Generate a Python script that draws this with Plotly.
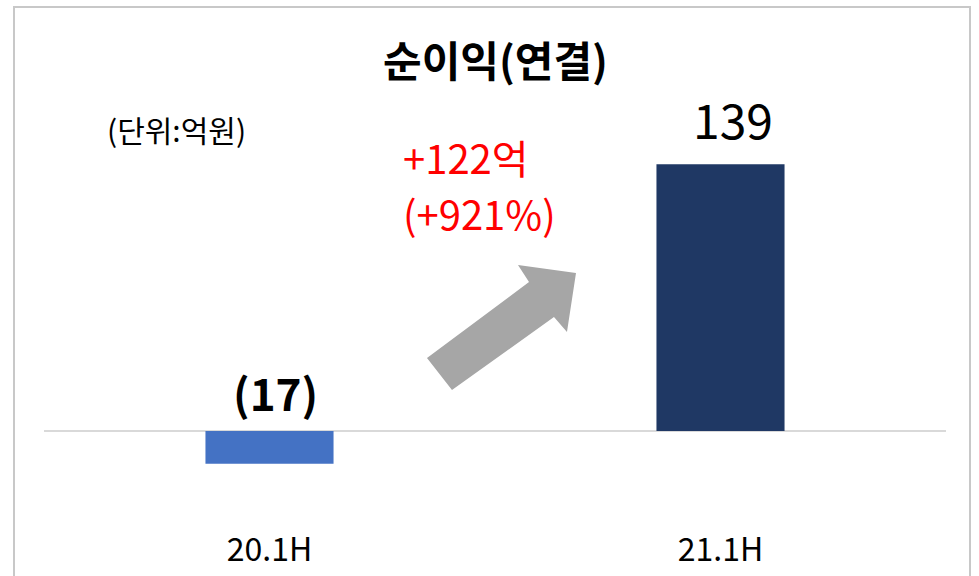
import plotly.graph_objects as go

categories = ["20.1H", "21.1H"]
values = [-17, 139]
bar_colors = ["#4472C4", "#1F3864"]
value_labels = ["(17)", "139"]
title_text = "순이익(연결)"
unit_text = "(단위:억원)"
change_lines = ["+122억", "(+921%)"]

W, H = 979, 576
ML, MR, MT, MB = 44, 33, 100, 76
PW, PH = W - ML - MR, H - MT - MB
FONT = "Noto Sans CJK KR"


def px(x):
    return (x - ML) / PW


def py(y):
    return (H - MB - y) / PH


fig = go.Figure()
fig.add_trace(go.Bar(
    x=categories, y=values, marker=dict(color=bar_colors, line=dict(width=0)),
    width=0.284, hoverinfo="skip",
))

# value labels
fig.add_annotation(x=categories[0], y=0, text=value_labels[0], showarrow=False,
                   yanchor="bottom", yshift=5, xshift=6,
                   font=dict(family=FONT, size=44, color="black", weight="bold"))
fig.add_annotation(x=categories[1], y=values[1], text=value_labels[1], showarrow=False,
                   yanchor="bottom", yshift=9, xshift=12,
                   font=dict(family=FONT, size=48, color="black"))

# title and unit
fig.add_annotation(xref="paper", yref="paper", x=px(495), y=py(59), text="<b>" + title_text + "</b>",
                   showarrow=False, xanchor="center", yanchor="middle",
                   font=dict(family=FONT, size=42, color="black"))
fig.add_annotation(xref="paper", yref="paper", x=px(105), y=py(129), text=unit_text,
                   showarrow=False, xanchor="left", yanchor="middle",
                   font=dict(family=FONT, size=30, color="black"))
for line_text, cy in zip(change_lines, [157, 213]):
    fig.add_annotation(xref="paper", yref="paper", x=px(401), y=py(cy), text=line_text,
                       showarrow=False, xanchor="left", yanchor="middle", align="left",
                       font=dict(family=FONT, size=40, color="#FF0000"))

# arrow shape
pts = [(427, 358), (529, 282), (518, 265), (576, 273), (567, 332), (554, 317), (452, 390)]
path = "M " + " L ".join(f"{px(a):.4f},{py(b):.4f}" for a, b in pts) + " Z"
fig.add_shape(type="path", xref="paper", yref="paper", path=path,
              fillcolor="#A6A6A6", line=dict(width=0))

# border
fig.add_shape(type="rect", xref="paper", yref="paper",
              x0=px(14), x1=px(970), y0=py(590), y1=py(7),
              line=dict(color="#C8C8C8", width=2), fillcolor="rgba(0,0,0,0)", layer="below")

fig.update_layout(
    width=W, height=H, margin=dict(l=ML, r=MR, t=MT, b=MB, autoexpand=False),
    plot_bgcolor="white", paper_bgcolor="white", showlegend=False,
    font=dict(family=FONT),
    xaxis=dict(type="category", range=[-0.5, 1.5], showgrid=False, showline=False,
               ticks="", tickfont=dict(family=FONT, size=32, color="black"),
               ticklabelstandoff=28, automargin=False),
    yaxis=dict(range=[-35.9, 172.4], showgrid=False, showticklabels=False, ticks="",
               zeroline=True, zerolinecolor="#D9D9D9", zerolinewidth=2, showline=False,
               automargin=False),
)

fig.write_html("out.html")
